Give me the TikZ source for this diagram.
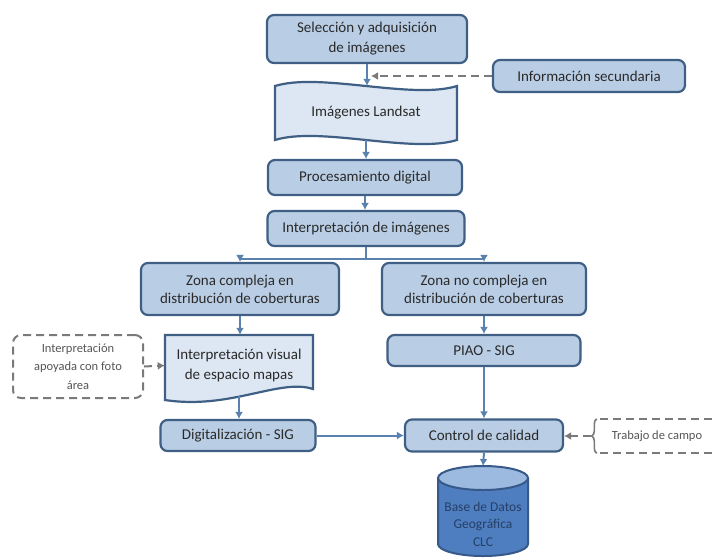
\documentclass[tikz,border=0pt]{standalone}
\usepackage{fontspec}
\setmainfont{Carlito}
\usetikzlibrary{arrows.meta,positioning,decorations.pathreplacing}

\definecolor{boxfill}{HTML}{B9CDE5}
\definecolor{boxline}{HTML}{3F5F84}
\definecolor{paperfill}{HTML}{DDE7F3}
\definecolor{flowblue}{HTML}{5A82AE}
\definecolor{dashgray}{HTML}{7A7A7A}
\definecolor{txtgray}{HTML}{2A2A2A}
\definecolor{exttext}{HTML}{555555}
\definecolor{dbbody}{HTML}{4F7EC0}
\definecolor{dbcap}{HTML}{9CB9DF}
\definecolor{dbline}{HTML}{36598A}
\definecolor{dbtext}{HTML}{253F66}

\tikzset{
  procbox/.style={draw=boxline, fill=boxfill, line width=2.2pt, rounded corners=7pt,
    text=txtgray, align=center, inner sep=0pt, font=\fontsize{15}{18}\selectfont},
  paper/.style={draw=boxline, fill=paperfill, line width=2.2pt},
  plaintext/.style={text=txtgray, align=center, inner sep=0pt, font=\fontsize{15}{20}\selectfont},
  flow/.style={-{Latex[length=7pt,width=8pt]}, draw=flowblue, line width=2pt},
  dashflow/.style={-{Latex[length=7pt,width=8pt]}, draw=dashgray, line width=2pt, dash pattern=on 8pt off 5pt},
  extbox/.style={text=exttext, align=center, inner sep=0pt, font=\fontsize{12.5}{18.5}\selectfont},
}

\begin{document}
\begin{tikzpicture}[x=1pt,y=-1pt]
  \useasboundingbox (0,0) rectangle (714,558);

  % shapes drawn first
  \draw[paper] (275,86) .. controls (320,72) and (412,100) .. (457,86) -- (457,140)
        .. controls (412,154) and (320,126) .. (275,140) -- cycle;
  \draw[paper] (165,335) -- (313,335) -- (313,389) .. controls (280,378) and (230,410) .. (165,400) -- cycle;

  % database
  \fill[dbbody] (438,478) rectangle (528,544);
  \fill[dbbody] (483,544) ellipse [x radius=45, y radius=12];
  \draw[dbline, line width=2pt] (438,478) -- (438,544) arc[start angle=180, end angle=0, x radius=45, y radius=12] -- (528,478);
  \filldraw[fill=dbcap, draw=dbline, line width=2pt] (483,478) ellipse [x radius=45, y radius=12];
  \coordinate (dbtop) at (483,466);

  % nodes
  \node[procbox, minimum width=200pt, minimum height=48pt, font=\fontsize{15}{20}\selectfont] (sel) at (367,39) {Selección y adquisición\\de imágenes};
  \node[procbox, minimum width=192pt, minimum height=32pt] (info) at (589,76) {Información secundaria};
  \node[plaintext, minimum width=182pt, minimum height=54pt] (land) at (366,113) {Imágenes Landsat};
  \node[procbox, minimum width=194pt, minimum height=35pt] (proc) at (365,177.5) {Procesamiento digital};
  \node[procbox, minimum width=197pt, minimum height=35pt] (interp) at (366,228.5) {Interpretación de imágenes};
  \node[procbox, minimum width=198pt, minimum height=52pt] (zona1) at (240,289) {Zona compleja en\\distribución de coberturas};
  \node[procbox, minimum width=204pt, minimum height=52pt] (zona2) at (484,289) {Zona no compleja en\\distribución de coberturas};
  \node[plaintext, minimum width=148pt, minimum height=61pt] (doc) at (239,365.5) {Interpretación visual\\de espacio mapas};
  \node[procbox, minimum width=193pt, minimum height=31pt] (piao) at (484,350.5) {PIAO - SIG};
  \node[extbox, draw=dashgray, dash pattern=on 8pt off 5pt, line width=2pt, rounded corners=8pt,
        minimum width=130pt, minimum height=63pt] (apoy) at (78,366.5) {Interpretación\\apoyada con foto\\área};
  \node[procbox, minimum width=155pt, minimum height=31pt] (dig) at (238,435.5) {Digitalización - SIG};
  \node[procbox, minimum width=158pt, minimum height=32pt] (ctrl) at (484,435.5) {Control de calidad};
  \node[extbox, minimum width=114pt, minimum height=34pt] (trab) at (657,436) {Trabajo de campo};
  \node[text=dbtext, align=center, inner sep=0pt, font=\fontsize{13.5}{17.5}\selectfont] (db) at (483,524) {Base de Datos\\Geográfica\\CLC};

  % trabajo de campo frame
  \draw[dashgray, line width=2pt, dash pattern=on 8pt off 5pt] (trab.north west) -- (trab.north east);
  \draw[dashgray, line width=2pt, dash pattern=on 8pt off 5pt] (trab.south west) -- (trab.south east);
  \draw[dashgray, line width=1.6pt, decorate, decoration={brace, amplitude=5pt}]
        ([xshift=-3pt]trab.south west) -- ([xshift=-3pt]trab.north west);

  % connectors
  \draw[flow] (sel.south) -- (sel.south |- land.north);
  \draw[dashflow] (info.west) -- ([xshift=5pt]info.west -| land.north);
  \draw[flow] (land.south) -- (land.south |- proc.north);
  \draw[flow] (proc.south) -- (proc.south |- interp.north);
  \coordinate (split) at ([yshift=-12pt]interp.south);
  \draw[flow] (interp.south) -- (split) -| (zona1.north);
  \draw[flow] (split) -| (zona2.north);
  \draw[flow] (zona1.south) -- (zona1.south |- doc.north);
  \draw[flow] (zona2.south) -- (piao.north);
  \draw[dashflow] (apoy.east) -- (doc.west);
  \draw[flow] (doc.south) -- (doc.south |- dig.north);
  \draw[flow] (piao.south) -- (ctrl.north);
  \draw[flow] (dig.east) -- (ctrl.west);
  \draw[dashflow] ([xshift=-9pt]trab.west) -- (ctrl.east |- trab.west);
  \draw[flow] (ctrl.south) -- (dbtop);
\end{tikzpicture}
\end{document}
